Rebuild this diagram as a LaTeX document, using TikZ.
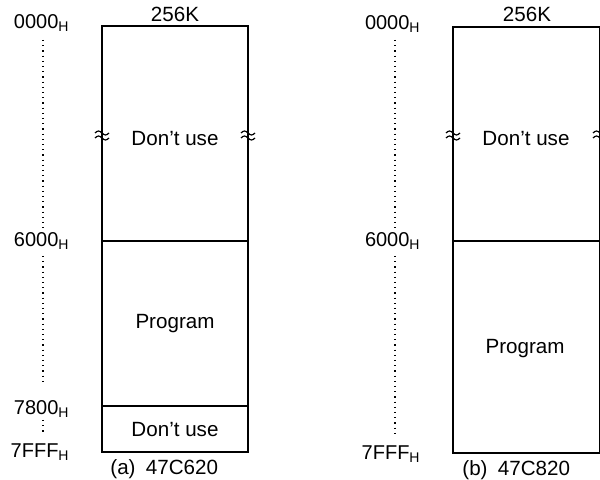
\documentclass[tikz,border=0pt]{standalone}
\usepackage{fontspec}
\setmainfont{Liberation Sans}
\usepackage{tikz}

\begin{document}
\begin{tikzpicture}[
  x=0.5pt, y=-0.5pt,
  addr/.style={anchor=base east, inner sep=0pt, font=\fontsize{10}{12}\selectfont},
  txt/.style={inner sep=0pt, font=\fontsize{10.3}{12}\selectfont},
  box/.style={line width=0.7pt},
  wave/.style={line width=0.6pt},
  guide/.style={dotted, line width=0.6pt},
]
  \useasboundingbox (0,0) rectangle (600,480);

  % (a) 47C620
  \coordinate (a-tl) at (102,26);
  \coordinate (a-br) at (248,452);
  \draw[box] (a-tl) rectangle (a-br);
  \draw[box] (102,241) coordinate (a-6l) -- (248,241) coordinate (a-6r);
  \draw[box] (102,406) coordinate (a-7l) -- (248,406) coordinate (a-7r);

  \node[txt] (a-size) at (175,14) {256K};
  \node[txt] (a-top)  at (175,139) {Don’t use};
  \node[txt] (a-prog) at (175,324) {Program};
  \node[txt] (a-bot)  at (175,430) {Don’t use};
  \node[txt, anchor=base west] (a-cap) at (110,475) {(a)\enspace47C620};

  \node[addr] (a-0000) at (70,29)  {0000$_{\mathrm{H}}$};
  \node[addr] (a-6000) at (70,247) {6000$_{\mathrm{H}}$};
  \node[addr] (a-7800) at (70,415) {7800$_{\mathrm{H}}$};
  \node[addr] (a-7fff) at (70,458) {7FFF$_{\mathrm{H}}$};
  \draw[guide] (43,40) -- (43,228);
  \draw[guide] (43,256) -- (43,385);
  \draw[guide] (43,420) -- (43,435);

  % (b) 47C820
  \coordinate (b-tl) at (453,27);
  \coordinate (b-br) at (600,453);
  \draw[box] (b-tl) rectangle (b-br);
  \draw[box] (453,241) coordinate (b-6l) -- (600,241) coordinate (b-6r);

  \node[txt] (b-size) at (527,14) {256K};
  \node[txt] (b-top)  at (526,139) {Don’t use};
  \node[txt] (b-prog) at (525,349) {Program};
  \node[txt, anchor=base west] (b-cap) at (462,476) {(b)\enspace47C820};

  \node[addr] (b-0000) at (421,30)  {0000$_{\mathrm{H}}$};
  \node[addr] (b-6000) at (421,247) {6000$_{\mathrm{H}}$};
  \node[addr] (b-7fff) at (421,460) {7FFF$_{\mathrm{H}}$};
  \draw[guide] (395,40) -- (395,228);
  \draw[guide] (395,256) -- (395,436);

  % break marks
  \foreach \bx/\name in {102/a-bl, 248/a-br, 453/b-bl, 600/b-br}{
    \coordinate (\name-brk) at (\bx,133);
    \foreach \dy in {0,5}
      \draw[wave] ([xshift=-3.5pt, yshift=-\dy*0.5pt]\name-brk)
        sin ++(1.75pt,1pt) cos ++(1.75pt,-1pt)
        sin ++(1.75pt,-1pt) cos ++(1.75pt,1pt);
  }
\end{tikzpicture}
\end{document}
